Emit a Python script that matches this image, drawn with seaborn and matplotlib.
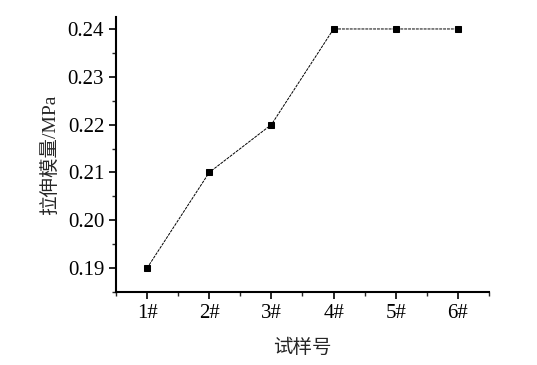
import numpy as np
import pandas as pd
import matplotlib
matplotlib.use("Agg")
import matplotlib.pyplot as plt
import seaborn as sns
from matplotlib.ticker import MultipleLocator

# data
samples = ["1#", "2#", "3#", "4#", "5#", "6#"]
modulus = [0.19, 0.21, 0.22, 0.24, 0.24, 0.24]

df = pd.DataFrame({"x": np.arange(1, len(samples) + 1), "y": modulus})

sns.set_style("ticks")
plt.rcParams["font.family"] = ["Liberation Serif", "Noto Sans CJK SC"]

fig = plt.figure(figsize=(5.37, 3.65), dpi=100)
ax = fig.add_axes([0.216, 0.2, 0.6946, 0.7534])

sns.lineplot(data=df, x="x", y="y", ax=ax, color="black", linewidth=0.7,
             linestyle=(0, (3, 1)), marker="s", markersize=5,
             markeredgecolor="black", markerfacecolor="black")

ax.set_xlim(0.5, 6.5)
ax.set_ylim(0.185, 0.2425)
ax.set_xticks(df["x"])
ax.set_xticklabels(samples)
ax.xaxis.set_minor_locator(MultipleLocator(0.5))
ax.yaxis.set_major_locator(MultipleLocator(0.01))
ax.yaxis.set_minor_locator(MultipleLocator(0.005))
ax.yaxis.set_major_formatter(matplotlib.ticker.FormatStrFormatter("%.2f"))

for s in ["left", "bottom"]:
    ax.spines[s].set_linewidth(1.5)
    ax.spines[s].set_color("black")
for s in ["top", "right"]:
    ax.spines[s].set_visible(False)

ax.tick_params(which="major", direction="out", length=5, width=1.2, labelsize=15, colors="black")
ax.tick_params(which="minor", direction="out", length=3, width=1.0)

ax.set_xlabel("试样号", fontsize=14, family=["Noto Sans CJK SC"], labelpad=10)
ax.set_ylabel("拉伸模量/MPa", fontsize=14, family=["Liberation Serif", "Noto Sans CJK SC"], labelpad=6)

fig.savefig("out.png", dpi=100)
